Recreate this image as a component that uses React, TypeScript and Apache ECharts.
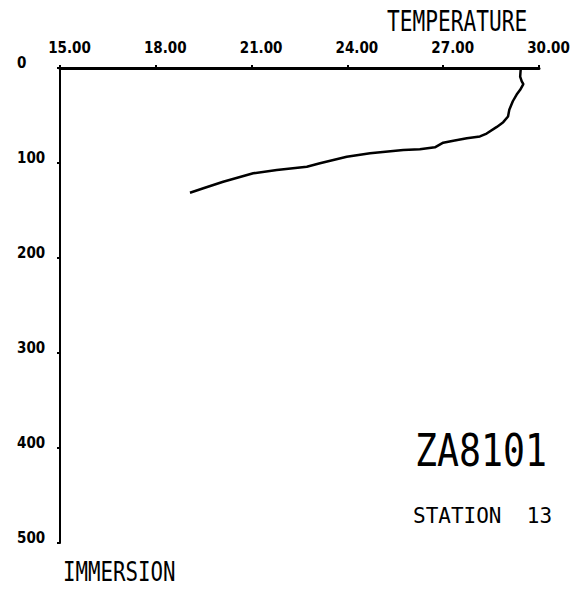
import React, { useEffect, useRef } from "react";
import * as echarts from "echarts";

// Temperature (°C) profile against immersion (m)
const temperature = [
  29.43, 29.41, 29.46, 29.51, 29.41, 29.3, 29.18, 29.07, 29.03, 28.88, 28.68,
  28.36, 28.15, 27.74, 27.32, 27.0, 26.74, 26.27, 25.75, 24.71, 23.98, 23.14,
  22.73, 21.79, 21.05, 20.11, 19.49, 19.07,
];
const depth = [
  0, 9, 14, 17, 23, 28, 35, 44, 51, 57, 62, 69, 72, 74, 76.5, 78.6, 83.5, 85.6,
  86.3, 89.8, 93.4, 100.3, 103.9, 107.4, 110.8, 119.7, 126.6, 131.3,
];

const tempMin = 15;
const tempMax = 30;
const tempStep = 3;
const depthMin = 0;
const depthMax = 500;
const depthStep = 100;

const xTitle = "TEMPERATURE";
const yTitle = "IMMERSION";
const cruise = "ZA8101";
const station = "STATION  13";

export default function App() {
  const ref = useRef<HTMLDivElement>(null);

  useEffect(() => {
    if (!ref.current) return;
    const chart = echarts.init(ref.current, undefined, { renderer: "svg" });
    const tickFont = "'DejaVu Sans Condensed', 'DejaVu Sans', sans-serif";
    const monoFont = "'DejaVu Sans Mono', monospace";
    const data = temperature.map((t, i) => [t, depth[i]]);

    chart.setOption({
      animation: false,
      backgroundColor: "#ffffff",
      grid: { left: 60, top: 68, width: 479, height: 475, containLabel: false },
      xAxis: {
        type: "value",
        position: "top",
        min: tempMin,
        max: tempMax,
        interval: tempStep,
        splitLine: { show: false },
        axisLine: { show: true, lineStyle: { color: "#000", width: 3 } },
        axisTick: { show: true, length: 3, lineStyle: { color: "#000", width: 2 } },
        axisLabel: {
          margin: 13,
          formatter: (v: number) => "{a|" + v.toFixed(2) + "}",
          rich: {
            a: {
              fontFamily: tickFont,
              fontWeight: "bold",
              fontSize: 15,
              color: "#000",
              padding: [0, 0, 0, 19],
            },
          },
        },
      },
      yAxis: {
        type: "value",
        inverse: true,
        min: depthMin,
        max: depthMax,
        interval: depthStep,
        splitLine: { show: false },
        axisLine: { show: true, lineStyle: { color: "#000", width: 2 } },
        axisTick: { show: true, length: 3, lineStyle: { color: "#000", width: 2 } },
        axisLabel: {
          align: "left",
          margin: 43,
          formatter: (v: number) => "{a|" + String(v) + "}",
          rich: {
            a: {
              fontFamily: tickFont,
              fontWeight: "bold",
              fontSize: 15,
              color: "#000",
              padding: [0, 0, 10, 0],
            },
          },
        },
      },
      series: [
        {
          type: "line",
          data,
          showSymbol: false,
          symbol: "none",
          smooth: false,
          lineStyle: { color: "#000", width: 2.5 },
        },
      ],
      graphic: [
        {
          type: "text",
          x: 387,
          y: 21,
          scaleX: 0.73,
          style: {
            text: xTitle,
            font: "29px " + monoFont,
            fill: "#000",
            align: "left",
            verticalAlign: "middle",
          },
        },
        {
          type: "text",
          x: 63,
          y: 572,
          scaleX: 0.77,
          style: {
            text: yTitle,
            font: "27px " + monoFont,
            fill: "#000",
            align: "left",
            verticalAlign: "middle",
          },
        },
        {
          type: "text",
          x: 415,
          y: 451,
          scaleX: 0.83,
          style: {
            text: cruise,
            font: "44px " + monoFont,
            fill: "#000",
            align: "left",
            verticalAlign: "middle",
          },
        },
        {
          type: "text",
          x: 413,
          y: 516,
          style: {
            text: station,
            font: "21px " + monoFont,
            fill: "#000",
            align: "left",
            verticalAlign: "middle",
          },
        },
      ],
    });
    return () => chart.dispose();
  }, []);

  return (
    <div
      ref={ref}
      style={{ position: "fixed", left: 0, top: 0, width: 579, height: 589, background: "#fff" }}
    />
  );
}
